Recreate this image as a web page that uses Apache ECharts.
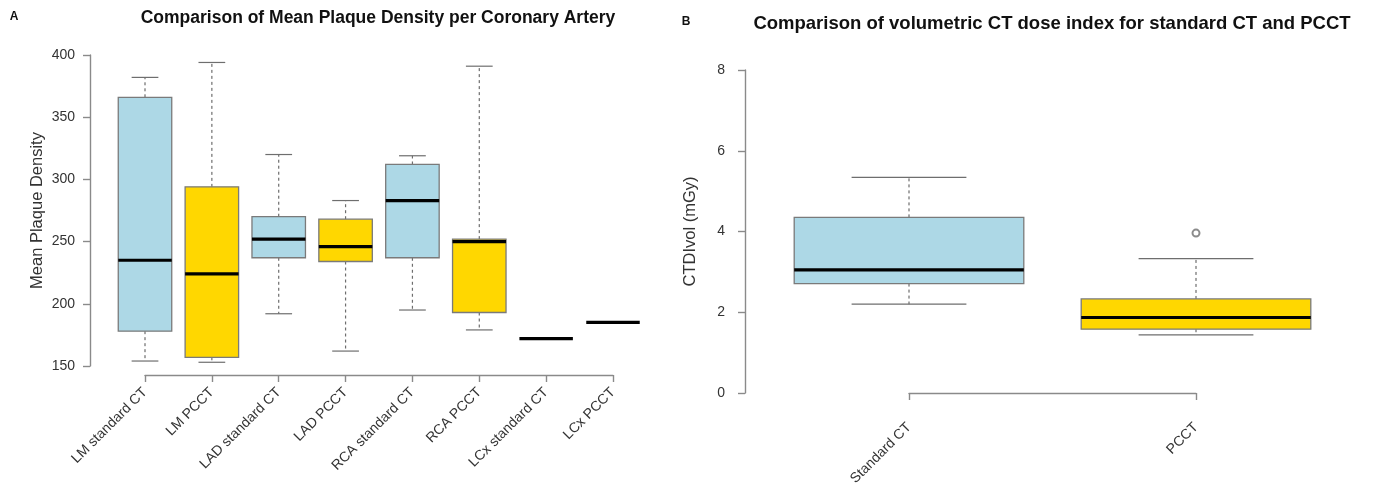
<!DOCTYPE html>
<html>
<head>
<meta charset="utf-8">
<script src="https://cdn.jsdelivr.net/npm/echarts@6/dist/echarts.min.js"></script>
<style>
  html, body { margin: 0; background: #fff; }
  #chart { width: 1373px; height: 493px; }
</style>
</head>
<body>
<div id="chart"></div>
<script>
// ---- panel A: mean plaque density per coronary artery ----
const arteryCategories = [
  'LM standard CT', 'LM PCCT', 'LAD standard CT', 'LAD PCCT',
  'RCA standard CT', 'RCA PCCT', 'LCx standard CT', 'LCx PCCT'
];
// [lower whisker, Q1, median, Q3, upper whisker]
const plaqueStats = [
  [154, 178, 235, 366, 382],
  [153, 157, 224, 294, 394],
  [192, 237, 252, 270, 320],
  [162, 234, 246, 268, 283],
  [195, 237, 283, 312, 319],
  [179, 193, 250, 252, 391],
  [172, 172, 172, 172, 172],
  [185, 185, 185, 185, 185]
];
const plaqueTicks = [150, 400, 50]; // min, max, step

// ---- panel B: CTDIvol ----
const doseCategories = ['Standard CT', 'PCCT'];
const doseStats = [
  [2.20, 2.71, 3.05, 4.35, 5.34],
  [1.44, 1.58, 1.87, 2.33, 3.33]
];
const doseOutliers = [[1, 3.96]];
const doseTicks = [0, 8, 2];

// colours
const C = {
  blue: '#add8e6',
  gold: '#ffd700',
  border: '#7a7a7a',
  whisker: '#6e6e6e',
  axis: '#8a8a8a',
  text: '#333',
  title: '#111'
};
const FONT = 'Liberation Sans, Arial, sans-serif';

// one box: whiskers (dashed), staples, box, thick median
function boxItem(params, api) {
  const i = api.value(0);
  const lo = api.coord([i, api.value(1)]);
  const q1 = api.coord([i, api.value(2)]);
  const md = api.coord([i, api.value(3)]);
  const q3 = api.coord([i, api.value(4)]);
  const hi = api.coord([i, api.value(5)]);
  const band = api.size([1, 0])[0];
  const bw = band * 0.8, cw = band * 0.4;
  const cx = md[0];
  const dash = { stroke: C.whisker, lineWidth: 1.2, lineDash: [3, 3] };
  const solid = { stroke: C.whisker, lineWidth: 1.2 };
  const flat = api.value(1) === api.value(5);
  const kids = [];
  if (!flat) {
    kids.push(
      { type: 'line', shape: { x1: cx, y1: q3[1], x2: cx, y2: hi[1] }, style: dash },
      { type: 'line', shape: { x1: cx, y1: q1[1], x2: cx, y2: lo[1] }, style: dash },
      { type: 'line', shape: { x1: cx - cw / 2, y1: hi[1], x2: cx + cw / 2, y2: hi[1] }, style: solid },
      { type: 'line', shape: { x1: cx - cw / 2, y1: lo[1], x2: cx + cw / 2, y2: lo[1] }, style: solid },
      { type: 'rect', shape: { x: cx - bw / 2, y: q3[1], width: bw, height: q1[1] - q3[1] },
        style: { fill: i % 2 === 0 ? C.blue : C.gold, stroke: C.border, lineWidth: 1.3 } }
    );
  }
  kids.push({ type: 'line', shape: { x1: cx - bw / 2, y1: md[1], x2: cx + bw / 2, y2: md[1] },
    style: { stroke: '#000', lineWidth: 3.2 } });
  return { type: 'group', children: kids };
}

const axisLine = { show: true, lineStyle: { color: C.axis, width: 1.4 } };
const axisTick = { show: true, length: 7, lineStyle: { color: C.axis, width: 1.4 } };
const tickLabel = { color: C.text, fontFamily: FONT, fontSize: 14 };
const nameStyle = { color: C.text, fontFamily: FONT, fontSize: 16.5 };

const chart = echarts.init(document.getElementById('chart'), null, { renderer: 'canvas' });
chart.setOption({
  backgroundColor: '#fff',
  animation: false,
  graphic: [
    { type: 'text', x: 14, y: 17, style: { text: 'A', font: 'bold 12px ' + FONT, fill: C.title, textAlign: 'center', textVerticalAlign: 'middle' } },
    { type: 'text', x: 378, y: 18, style: { text: 'Comparison of Mean Plaque Density per Coronary Artery', font: 'bold 17.5px ' + FONT, fill: C.title, textAlign: 'center', textVerticalAlign: 'middle' } },
    { type: 'text', x: 686, y: 22, style: { text: 'B', font: 'bold 12px ' + FONT, fill: C.title, textAlign: 'center', textVerticalAlign: 'middle' } },
    { type: 'text', x: 1052, y: 24, style: { text: 'Comparison of volumetric CT dose index for standard CT and PCCT', font: 'bold 18.5px ' + FONT, fill: C.title, textAlign: 'center', textVerticalAlign: 'middle' } }
  ],
  grid: [
    { left: 145, top: 55, width: 468, height: 311 },
    { left: 909, top: 70, width: 287, height: 323 }
  ],
  xAxis: [
    {
      gridIndex: 0, type: 'category', data: arteryCategories, boundaryGap: false, offset: 9,
      axisLine, axisTick,
      axisLabel: { ...tickLabel, rotate: 45, margin: 15, interval: 0 },
      splitLine: { show: false }
    },
    {
      gridIndex: 1, type: 'category', data: doseCategories, boundaryGap: false, offset: 13,
      axisLine, axisTick,
      axisLabel: { ...tickLabel, rotate: 45, margin: 19, interval: 0 },
      splitLine: { show: false }
    }
  ],
  yAxis: [
    {
      gridIndex: 0, type: 'value', min: plaqueTicks[0], max: plaqueTicks[1], interval: plaqueTicks[2],
      offset: 55, axisLine, axisTick,
      axisLabel: { ...tickLabel, margin: 15 },
      splitLine: { show: false },
      name: 'Mean Plaque Density', nameLocation: 'middle', nameGap: 44,
      nameTextStyle: nameStyle
    },
    {
      gridIndex: 1, type: 'value', min: doseTicks[0], max: doseTicks[1], interval: doseTicks[2],
      offset: 164, axisLine, axisTick,
      axisLabel: { ...tickLabel, margin: 20 },
      splitLine: { show: false },
      name: 'CTDIvol (mGy)', nameLocation: 'middle', nameGap: 46,
      nameTextStyle: nameStyle
    }
  ],
  series: [
    {
      type: 'custom', xAxisIndex: 0, yAxisIndex: 0,
      data: plaqueStats.map((s, i) => [i, ...s]),
      encode: { x: 0, y: [1, 2, 3, 4, 5] },
      renderItem: boxItem, clip: false
    },
    {
      type: 'custom', xAxisIndex: 1, yAxisIndex: 1,
      data: doseStats.map((s, i) => [i, ...s]),
      encode: { x: 0, y: [1, 2, 3, 4, 5] },
      renderItem: boxItem, clip: false
    },
    {
      type: 'scatter', xAxisIndex: 1, yAxisIndex: 1,
      data: doseOutliers, symbol: 'emptyCircle', symbolSize: 7,
      itemStyle: { color: C.whisker, borderColor: C.whisker, borderWidth: 1.2 }
    }
  ]
});
window.addEventListener('resize', () => chart.resize());
</script>
</body>
</html>
